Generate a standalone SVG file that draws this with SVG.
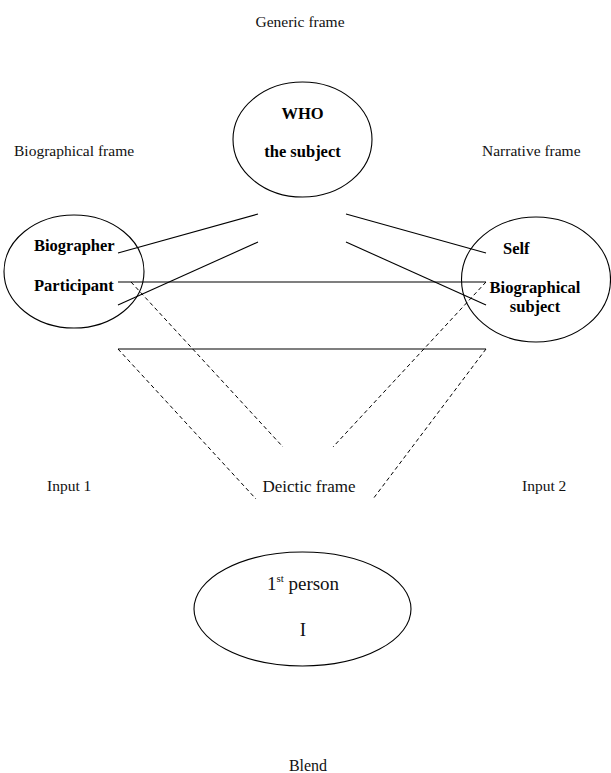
<svg xmlns="http://www.w3.org/2000/svg" width="611" height="773" viewBox="0 0 611 773">
<style>
.bg{fill:#fff}
.node{fill:none;stroke:#000;stroke-width:1.1}
.lbl{font-family:"Liberation Serif","Times New Roman",serif;font-size:15.5px;fill:#111}
.b{font-family:"Liberation Serif","Times New Roman",serif;font-size:16.5px;font-weight:bold;fill:#000}
.big{font-family:"Liberation Serif","Times New Roman",serif;font-size:19px;fill:#111}
.solid{stroke:#000;stroke-width:1.1;fill:none}
.dash{stroke:#000;stroke-width:1;fill:none;stroke-dasharray:4,3}
</style>
<rect class="bg" x="0" y="0" width="611" height="773"/>
<g id="labels">
<text class="lbl" x="300" y="27" text-anchor="middle">Generic frame</text>
<text class="lbl" x="14" y="156">Biographical frame</text>
<text class="lbl" x="482" y="156">Narrative frame</text>
<text class="lbl" x="47" y="491">Input 1</text>
<text class="lbl" x="522" y="491">Input 2</text>
<text class="lbl" x="309" y="492" text-anchor="middle" style="font-size:17px">Deictic frame</text>
<text class="lbl" x="308" y="771" text-anchor="middle" style="font-size:16px">Blend</text>
</g>
<g id="generic">
<ellipse class="node" cx="302.5" cy="139.5" rx="69.5" ry="57.5"/>
<text class="b" x="302.5" y="119" text-anchor="middle">WHO</text>
<text class="b" x="302.5" y="157" text-anchor="middle">the subject</text>
</g>
<g id="input1">
<ellipse class="node" cx="74" cy="271.5" rx="70" ry="56.5"/>
<text class="b" x="34" y="251">Biographer</text>
<text class="b" x="34" y="291">Participant</text>
</g>
<g id="input2">
<ellipse class="node" cx="536" cy="279.5" rx="74.5" ry="62.5"/>
<text class="b" x="503" y="254">Self</text>
<text class="b" x="535" y="293" text-anchor="middle">Biographical</text>
<text class="b" x="535" y="312" text-anchor="middle">subject</text>
</g>
<g id="blend">
<ellipse class="node" cx="302.5" cy="609" rx="108.5" ry="57"/>
<text class="big" x="303" y="590" text-anchor="middle">1<tspan font-size="11" dy="-8">st</tspan><tspan dy="8"> person</tspan></text>
<text class="big" x="303" y="636" text-anchor="middle">I</text>
</g>
<g id="connectors">
<line class="solid" x1="118" y1="253" x2="258" y2="214"/>
<line class="solid" x1="118" y1="305" x2="258" y2="242"/>
<line class="solid" x1="346" y1="214" x2="486" y2="253"/>
<line class="solid" x1="346" y1="242" x2="486" y2="305"/>
<line class="solid" x1="118" y1="282" x2="486" y2="282"/>
<line class="solid" x1="118" y1="349" x2="486" y2="349"/>
<line class="dash" x1="131" y1="282" x2="283" y2="447"/>
<line class="dash" x1="118" y1="349" x2="256" y2="499"/>
<line class="dash" x1="486" y1="282" x2="333" y2="447"/>
<line class="dash" x1="486" y1="349" x2="373" y2="499"/>
</g>
</svg>
